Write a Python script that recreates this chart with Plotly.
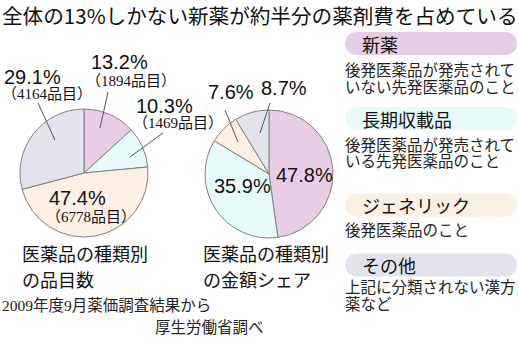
import plotly.graph_objects as go

W, H = 519, 343

categories = ["新薬", "長期収載品", "ジェネリック", "その他"]
count_pct = [13.2, 10.3, 47.4, 29.1]
count_items = [1894, 1469, 6778, 4164]
amount_pct = [47.8, 35.9, 7.6, 8.7]
colors = ["#E8CDE6", "#E6FAFA", "#FCEFE3", "#E3E3EF"]
descriptions = [
    "後発医薬品が発売されて<br>いない先発医薬品のこと",
    "後発医薬品が発売されて<br>いる先発医薬品のこと",
    "後発医薬品のこと",
    "上記に分類されない漢方<br>薬など",
]
captions = [("医薬品の種類別", "の品目数"), ("医薬品の種類別", "の金額シェア")]

GOTHIC = "Noto Sans CJK JP, sans-serif"
SERIF = "Liberation Serif, Noto Sans CJK JP, serif"
NUM = "Liberation Sans, Arial, sans-serif"


def px(x):
    return x / W


def py(y):
    return 1 - y / H


def dom(cx, cy, r):
    return dict(x=[px(cx - r), px(cx + r)], y=[py(cy + r), py(cy - r)])


fig = go.Figure()
fig.add_trace(go.Pie(
    labels=categories, values=count_pct, sort=False, direction="clockwise",
    rotation=0, textinfo="none", hoverinfo="label+percent",
    marker=dict(colors=colors, line=dict(color="#808080", width=1)),
    domain=dom(84, 173, 64), showlegend=False,
))
fig.add_trace(go.Pie(
    labels=categories, values=amount_pct, sort=False, direction="clockwise",
    rotation=0, textinfo="none", hoverinfo="label+percent",
    marker=dict(colors=colors, line=dict(color="#808080", width=1)),
    domain=dom(269, 174, 64), showlegend=False,
))

ann = []


def text(x, y, s, size, family, color="#111111", anchor="left"):
    ann.append(dict(x=px(x), y=py(y), xref="paper", yref="paper", text=s,
                    showarrow=False, xanchor=anchor, yanchor="middle",
                    font=dict(size=size, family=family, color=color)))


# title
text(0, 15, "全体の13%しかない新薬が約半分の薬剤費を占めている", 20.6, GOTHIC)

# pie 1 labels (percent position, item-count position)
p1_pos = [(89, 62, 84, 81), (134, 106, 131, 123), (47, 198, 44, 217), (2, 77, 0, 94)]
for (xp, yp, xi, yi), pct, n in zip(p1_pos, count_pct, count_items):
    text(xp, yp, f"{pct:.1f}%", 20, NUM)
    text(xi, yi, f"（{n}品目）", 15, SERIF)

# pie 2 labels
p2_pos = [(274, 175), (212, 186), (206, 92), (259, 88)]
for (xp, yp), pct in zip(p2_pos, amount_pct):
    text(xp, yp, f"{pct:.1f}%", 20, NUM)

# leader lines
shapes = []
leaders = [((108, 92), (100, 128)), ((163, 133), (130, 157)), ((38, 103), (55, 140)),
           ((225, 110), (238, 142)), ((270, 103), (260, 133))]
for (x0, y0), (x1, y1) in leaders:
    shapes.append(dict(type="line", xref="paper", yref="paper",
                       x0=px(x0), y0=py(y0), x1=px(x1), y1=py(y1),
                       line=dict(color="#555555", width=1)))

# legend pills
pill_centers = [43.5, 118.5, 205, 265]
desc_y = [(70, 87), (145, 162), (230,), (287, 304)]
hw, hh = 86, 11.5
k = 0.5523
r = hh
path = (f"M {-hw + r},{-hh} L {hw - r},{-hh} "
        f"C {hw - r + k * r},{-hh} {hw},{-k * hh} {hw},0 "
        f"C {hw},{k * hh} {hw - r + k * r},{hh} {hw - r},{hh} "
        f"L {-hw + r},{hh} "
        f"C {-hw + r - k * r},{hh} {-hw},{k * hh} {-hw},0 "
        f"C {-hw},{-k * hh} {-hw + r - k * r},{-hh} {-hw + r},{-hh} Z")
for cy, col, cat, desc, dys in zip(pill_centers, colors, categories, descriptions, desc_y):
    shapes.append(dict(type="path", xref="paper", yref="paper",
                       xsizemode="pixel", ysizemode="pixel",
                       xanchor=px(431), yanchor=py(cy), path=path,
                       fillcolor=col, line=dict(width=0), layer="below"))
    text(360, cy, cat, 18, GOTHIC)
    for line, dy in zip(desc.split("<br>"), dys):
        text(343, dy, line, 15.5, SERIF, color="#222222")

# captions
for cx, (l1, l2) in zip([20, 201], captions):
    text(cx, 253, l1, 18, GOTHIC)
    text(cx, 279, l2, 18, GOTHIC)
text(0, 305, "2009年度9月薬価調査結果から", 15.5, SERIF, color="#222222")
text(153, 327, "厚生労働省調べ", 15.5, SERIF, color="#222222")

fig.update_layout(
    width=W, height=H, margin=dict(l=0, r=0, t=0, b=0),
    paper_bgcolor="white", plot_bgcolor="white",
    annotations=ann, shapes=shapes, showlegend=False,
)
fig.write_html("out.html")
